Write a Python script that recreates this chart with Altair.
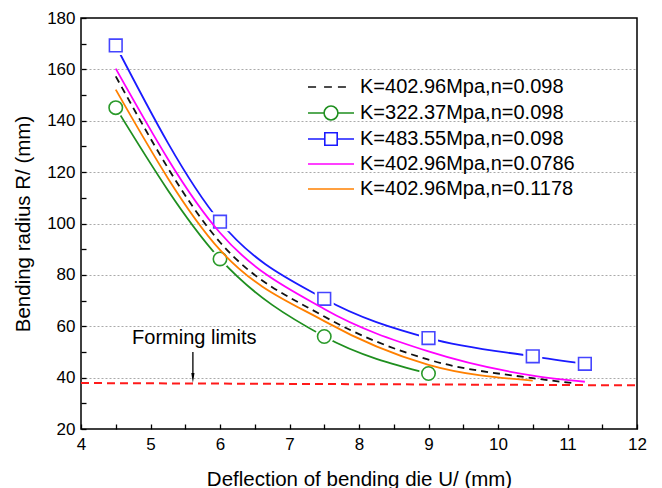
import altair as alt
import pandas as pd

# ---------------- data ----------------
series_labels = [
    "K=402.96Mpa,n=0.098",
    "K=322.37Mpa,n=0.098",
    "K=483.55Mpa,n=0.098",
    "K=402.96Mpa,n=0.0786",
    "K=402.96Mpa,n=0.1178",
]
series_colors = ["#111111", "#1f8f1f", "#1a1aff", "#ff00ff", "#ff8000"]

x_k402_n098 = [4.5, 6.0, 7.5, 9.0, 10.5, 11.1]
r_k402_n098 = [157.3, 92.7, 63.8, 47.0, 39.8, 37.8]

x_k322_n098 = [4.5, 6.0, 7.5, 9.0]
r_k322_n098 = [145.1, 86.2, 56.0, 41.6]

x_k483_n098 = [4.5, 6.0, 7.5, 9.0, 10.5, 11.25]
r_k483_n098 = [169.3, 100.7, 70.7, 55.4, 48.3, 45.4]

x_k402_n0786 = [4.5, 6.0, 7.5, 9.0, 10.5, 11.25]
r_k402_n0786 = [160.3, 96.4, 66.7, 50.2, 40.8, 38.4]

x_k402_n1178 = [4.5, 6.0, 7.5, 9.0, 10.5]
r_k402_n1178 = [152.1, 89.7, 62.0, 45.0, 38.8]

limit_x = [4.0, 12.0]
limit_r = [37.9, 37.0]

annot_text = "Forming limits"

x_tick_values = [4, 4.5, 5, 5.5, 6, 6.5, 7, 7.5, 8, 8.5, 9, 9.5, 10, 10.5, 11, 11.5, 12]
y_tick_values = [20, 30, 40, 50, 60, 70, 80, 90, 100, 110, 120, 130, 140, 150, 160, 170, 180]

# ---------------- tables ----------------
xs = [x_k402_n098, x_k322_n098, x_k483_n098, x_k402_n0786, x_k402_n1178]
rs = [r_k402_n098, r_k322_n098, r_k483_n098, r_k402_n0786, r_k402_n1178]
rows = []
for lab, xx, rr in zip(series_labels, xs, rs):
    for a, b in zip(xx, rr):
        rows.append({"series": lab, "x": a, "r": b})
df = pd.DataFrame(rows)
df_limit = pd.DataFrame({"x": limit_x, "r": limit_r})

FONT = "Liberation Sans"

x_enc = alt.X(
    "x:Q",
    scale=alt.Scale(domain=[4, 12], nice=False, zero=False),
    axis=alt.Axis(
        values=x_tick_values,
        labelExpr="datum.value % 1 === 0 ? format(datum.value, 'd') : ''",
        grid=False,
        domain=False,
        offset=-5,
        tickSize=5,
        tickWidth=1.3,
        tickColor="black",
        labelPadding=7,
        labelFlush=False,
        labelOverlap=False,
        titlePadding=17,
    ),
    title="Deflection of bending die U/ (mm)",
)
y_enc = alt.Y(
    "r:Q",
    scale=alt.Scale(domain=[20, 180], nice=False, zero=False),
    axis=alt.Axis(
        values=y_tick_values,
        labelExpr="datum.value % 20 === 0 ? datum.label : ''",
        grid=True,
        gridColor="#aaaaaa",
        gridDash=[2, 2],
        gridWidth=1,
        gridOpacity={
            "condition": {
                "test": "datum.value % 20 === 0 && datum.value > 20 && datum.value < 180",
                "value": 1,
            },
            "value": 0,
        },
        domain=False,
        offset=-5,
        tickSize=5,
        tickWidth=1.3,
        tickColor="black",
        labelPadding=6,
        labelOverlap=False,
        titlePadding=13,
    ),
    title="Bending radius R/ (mm)",
)

def series_df(i):
    return df[df["series"] == series_labels[i]]

layers = []

# forming limit (red dashed)
layers.append(
    alt.Chart(df_limit)
    .mark_line(color="#ff1a1a", strokeDash=[8, 5], strokeWidth=2)
    .encode(x=x_enc, y=y_enc)
)

# green and blue curves (beneath marker halos)
for i in (1, 2):
    layers.append(
        alt.Chart(series_df(i))
        .mark_line(color=series_colors[i], strokeWidth=1.8, interpolate="monotone")
        .encode(x=x_enc, y=y_enc)
    )

# white halos giving the gap around symbols
for i in (1, 2):
    layers.append(
        alt.Chart(series_df(i))
        .mark_point(shape="square" if i == 2 else "circle", filled=True, color="white",
                    opacity=1, size=360)
        .encode(x=x_enc, y=y_enc)
    )

# markers
layers.append(
    alt.Chart(series_df(1))
    .mark_point(shape="circle", filled=False, fill="white", stroke="#2a9a2a",
                strokeWidth=1.6, opacity=1, size=180)
    .encode(x=x_enc, y=y_enc)
)
layers.append(
    alt.Chart(series_df(2))
    .mark_point(shape="square", filled=False, fill="white", stroke="#4545ff",
                strokeWidth=1.6, opacity=1, size=160)
    .encode(x=x_enc, y=y_enc)
)

# magenta, orange, black dashed curves
for i in (3, 4):
    layers.append(
        alt.Chart(series_df(i))
        .mark_line(color=series_colors[i], strokeWidth=1.8, interpolate="monotone")
        .encode(x=x_enc, y=y_enc)
    )
layers.append(
    alt.Chart(series_df(0))
    .mark_line(color=series_colors[0], strokeWidth=1.8, strokeDash=[7, 5],
               interpolate="monotone")
    .encode(x=x_enc, y=y_enc)
)

# annotation text + arrow
df_annot = pd.DataFrame({"x": [5.63], "r": [55.5], "t": [annot_text]})
layers.append(
    alt.Chart(df_annot)
    .mark_text(font=FONT, fontSize=20, color="black", baseline="middle", align="center")
    .encode(x=x_enc, y=y_enc, text="t:N")
)
df_arrow = pd.DataFrame({"x": [5.61], "r": [50.0], "r2": [40.5]})
layers.append(
    alt.Chart(df_arrow)
    .mark_rule(color="black", strokeWidth=1.3)
    .encode(x=x_enc, y=y_enc, y2="r2:Q")
)
df_head = pd.DataFrame({"x": [5.61], "r": [39.9]})
layers.append(
    alt.Chart(df_head)
    .mark_point(shape="M-0.32,-1L0.32,-1L0,1Z", filled=True, color="black",
                opacity=1, size=100)
    .encode(x=x_enc, y=y_enc)
)

# legend layer (no marks drawn, only drives the legend)
# symbol unit = 9 px (symbolSize 324); paths span 46 px wide
legend_paths = [
    "M-2.556,0H-1.66M-0.77,0H0.1M0.77,0H1.66",
    "M-2.556,0H-0.77M0.77,0H2.556M-0.77,0A0.77,0.77 0 1,0 0.77,0A0.77,0.77 0 1,0 -0.77,0Z",
    "M-2.556,0H-0.69M0.69,0H2.556M-0.69,-0.69H0.69V0.69H-0.69Z",
    "M-2.556,0H2.556",
    "M-2.556,0H2.556",
]
layers.append(
    alt.Chart(df)
    .transform_filter("false")
    .mark_point(filled=False, opacity=1)
    .encode(
        x=x_enc,
        y=y_enc,
        color=alt.Color(
            "series:N",
            scale=alt.Scale(domain=series_labels, range=series_colors),
            legend=alt.Legend(
                title=None,
                orient="none",
                legendX=240,
                legendY=59,
                padding=0,
                labelFont=FONT,
                labelFontSize=20,
                labelColor="black",
                labelOffset=19,
                symbolSize=324,
                symbolStrokeWidth=1.6,
                symbolOpacity=1,
                rowPadding=5,
                labelLimit=400,
            ),
        ),
        shape=alt.Shape(
            "series:N",
            scale=alt.Scale(domain=series_labels, range=legend_paths),
        ),
    )
)

chart = (
    alt.layer(*layers)
    .properties(
        width=556,
        height=411,
        autosize=alt.AutoSizeParams(type="none"),
        padding={"left": 81, "top": 18, "right": 25, "bottom": 59},
    )
    .configure_view(stroke="black", strokeWidth=1.5)
    .configure_axis(
        labelFont=FONT,
        labelFontSize=17,
        labelColor="black",
        titleFont=FONT,
        titleFontSize=20.5,
        titleFontWeight="normal",
        titleColor="black",
    )
)

chart.save("out.html", embed_options={"renderer": "svg", "actions": False})
